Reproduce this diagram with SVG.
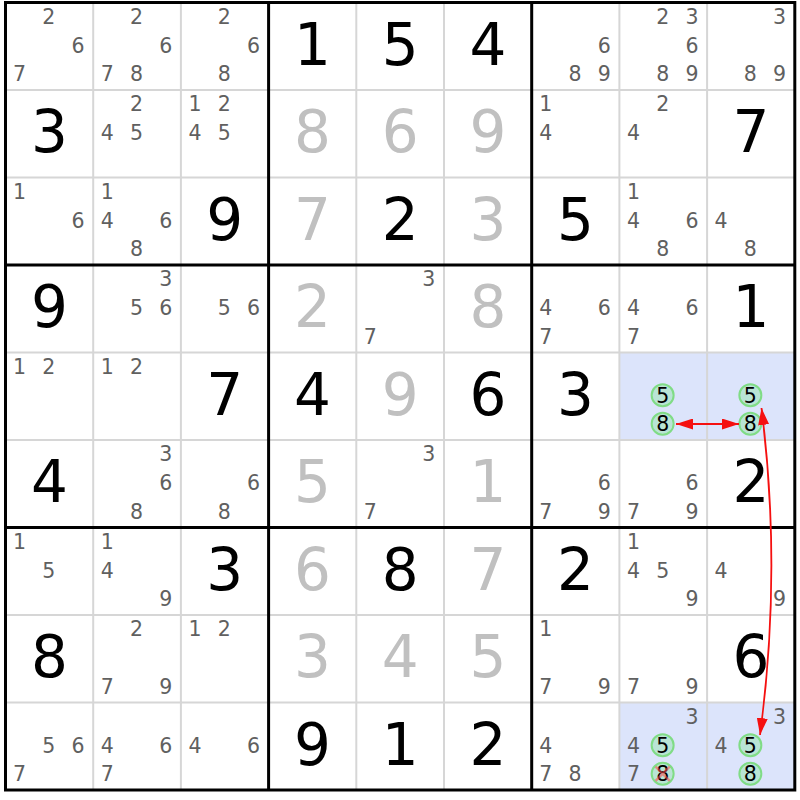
<svg xmlns="http://www.w3.org/2000/svg" width="800" height="800" viewBox="0 0 800 800">
<style>
text{font-family:"DejaVu Sans","Liberation Sans",sans-serif;text-anchor:middle}
.c{font-size:20.5px;fill:#606060}
.g{font-size:58px;fill:#000}
.s{font-size:58px;fill:#c0c0c0}
.k{font-size:20.5px;fill:#000}
.hl{fill:#dce4fb}
.cir{fill:#b9e4d5;stroke:#80dc86;stroke-width:2}
.thin{stroke:#d6d6d6;stroke-width:2}
.thick{stroke:#000;stroke-width:3;fill:none}
.arr{stroke:#f51010;stroke-width:1.8;fill:none;marker-start:url(#ah);marker-end:url(#ah)}
.x{stroke:#ff4a4a;stroke-width:2.5;opacity:0.55}
</style>
<defs>
<marker id="ah" viewBox="0 0 17 11" refX="17" refY="5.5" markerWidth="17" markerHeight="11" markerUnits="userSpaceOnUse" orient="auto-start-reverse">
<path d="M0,0 L17,5.5 L0,11 z" fill="#f51010"/>
</marker>
</defs>
<rect width="800" height="800" fill="#fff"/>
<g id="highlights">
<rect class="hl" x="619.4" y="352.5" width="175.4" height="87.5"/>
<rect class="hl" x="619.4" y="702.5" width="175.4" height="87.5"/>
</g>
<g id="grid">
<path class="thin" d="M93.2,2.5V790M180.9,2.5V790M356.3,2.5V790M444,2.5V790M619.4,2.5V790M707.1,2.5V790M5.5,90H794.8M5.5,177.5H794.8M5.5,352.5H794.8M5.5,440H794.8M5.5,615H794.8M5.5,702.5H794.8"/>
<path class="thick" d="M268.6,2.5V790M531.7,2.5V790M5.5,265H794.8M5.5,527.5H794.8"/>
<rect class="thick" x="5.5" y="2.5" width="789.3" height="787.5"/>
</g>
<g id="r1c1"><text class="c" x="48.75" y="23.5">2</text><text class="c" x="78" y="52.5">6</text><text class="c" x="19.5" y="81">7</text></g>
<g id="r1c2"><text class="c" x="136.45" y="23.5">2</text><text class="c" x="165.7" y="52.5">6</text><text class="c" x="107.2" y="81">7</text><text class="c" x="136.45" y="81">8</text></g>
<g id="r1c3"><text class="c" x="224.15" y="23.5">2</text><text class="c" x="253.4" y="52.5">6</text><text class="c" x="224.15" y="81">8</text></g>
<g id="r1c4"><text class="g" x="312.45" y="64.5">1</text></g>
<g id="r1c5"><text class="g" x="400.15" y="64.5">5</text></g>
<g id="r1c6"><text class="g" x="487.85" y="64.5">4</text></g>
<g id="r1c7"><text class="c" x="604.2" y="52.5">6</text><text class="c" x="574.95" y="81">8</text><text class="c" x="604.2" y="81">9</text></g>
<g id="r1c8"><text class="c" x="662.65" y="23.5">2</text><text class="c" x="691.9" y="23.5">3</text><text class="c" x="691.9" y="52.5">6</text><text class="c" x="662.65" y="81">8</text><text class="c" x="691.9" y="81">9</text></g>
<g id="r1c9"><text class="c" x="779.6" y="23.5">3</text><text class="c" x="750.35" y="81">8</text><text class="c" x="779.6" y="81">9</text></g>
<g id="r2c1"><text class="g" x="49.35" y="152">3</text></g>
<g id="r2c2"><text class="c" x="136.45" y="111">2</text><text class="c" x="107.2" y="140">4</text><text class="c" x="136.45" y="140">5</text></g>
<g id="r2c3"><text class="c" x="194.9" y="111">1</text><text class="c" x="224.15" y="111">2</text><text class="c" x="194.9" y="140">4</text><text class="c" x="224.15" y="140">5</text></g>
<g id="r2c4"><text class="s" x="312.45" y="152">8</text></g>
<g id="r2c5"><text class="s" x="400.15" y="152">6</text></g>
<g id="r2c6"><text class="s" x="487.85" y="152">9</text></g>
<g id="r2c7"><text class="c" x="545.7" y="111">1</text><text class="c" x="545.7" y="140">4</text></g>
<g id="r2c8"><text class="c" x="662.65" y="111">2</text><text class="c" x="633.4" y="140">4</text></g>
<g id="r2c9"><text class="g" x="750.95" y="152">7</text></g>
<g id="r3c1"><text class="c" x="19.5" y="198.5">1</text><text class="c" x="78" y="227.5">6</text></g>
<g id="r3c2"><text class="c" x="107.2" y="198.5">1</text><text class="c" x="107.2" y="227.5">4</text><text class="c" x="165.7" y="227.5">6</text><text class="c" x="136.45" y="256">8</text></g>
<g id="r3c3"><text class="g" x="224.75" y="239.5">9</text></g>
<g id="r3c4"><text class="s" x="312.45" y="239.5">7</text></g>
<g id="r3c5"><text class="g" x="400.15" y="239.5">2</text></g>
<g id="r3c6"><text class="s" x="487.85" y="239.5">3</text></g>
<g id="r3c7"><text class="g" x="575.55" y="239.5">5</text></g>
<g id="r3c8"><text class="c" x="633.4" y="198.5">1</text><text class="c" x="633.4" y="227.5">4</text><text class="c" x="691.9" y="227.5">6</text><text class="c" x="662.65" y="256">8</text></g>
<g id="r3c9"><text class="c" x="721.1" y="227.5">4</text><text class="c" x="750.35" y="256">8</text></g>
<g id="r4c1"><text class="g" x="49.35" y="327">9</text></g>
<g id="r4c2"><text class="c" x="165.7" y="286">3</text><text class="c" x="136.45" y="315">5</text><text class="c" x="165.7" y="315">6</text></g>
<g id="r4c3"><text class="c" x="224.15" y="315">5</text><text class="c" x="253.4" y="315">6</text></g>
<g id="r4c4"><text class="s" x="312.45" y="327">2</text></g>
<g id="r4c5"><text class="c" x="428.8" y="286">3</text><text class="c" x="370.3" y="343.5">7</text></g>
<g id="r4c6"><text class="s" x="487.85" y="327">8</text></g>
<g id="r4c7"><text class="c" x="545.7" y="315">4</text><text class="c" x="604.2" y="315">6</text><text class="c" x="545.7" y="343.5">7</text></g>
<g id="r4c8"><text class="c" x="633.4" y="315">4</text><text class="c" x="691.9" y="315">6</text><text class="c" x="633.4" y="343.5">7</text></g>
<g id="r4c9"><text class="g" x="750.95" y="327">1</text></g>
<g id="r5c1"><text class="c" x="19.5" y="373.5">1</text><text class="c" x="48.75" y="373.5">2</text></g>
<g id="r5c2"><text class="c" x="107.2" y="373.5">1</text><text class="c" x="136.45" y="373.5">2</text></g>
<g id="r5c3"><text class="g" x="224.75" y="414.5">7</text></g>
<g id="r5c4"><text class="g" x="312.45" y="414.5">4</text></g>
<g id="r5c5"><text class="s" x="400.15" y="414.5">9</text></g>
<g id="r5c6"><text class="g" x="487.85" y="414.5">6</text></g>
<g id="r5c7"><text class="g" x="575.55" y="414.5">3</text></g>
<g id="r5c8"><circle class="cir" cx="662.65" cy="395.2" r="11"/><circle class="cir" cx="662.65" cy="423.7" r="11"/><text class="k" x="662.65" y="402.5">5</text><text class="k" x="662.65" y="431">8</text></g>
<g id="r5c9"><circle class="cir" cx="750.35" cy="395.2" r="11"/><circle class="cir" cx="750.35" cy="423.7" r="11"/><text class="k" x="750.35" y="402.5">5</text><text class="k" x="750.35" y="431">8</text></g>
<g id="r6c1"><text class="g" x="49.35" y="502">4</text></g>
<g id="r6c2"><text class="c" x="165.7" y="461">3</text><text class="c" x="165.7" y="490">6</text><text class="c" x="136.45" y="518.5">8</text></g>
<g id="r6c3"><text class="c" x="253.4" y="490">6</text><text class="c" x="224.15" y="518.5">8</text></g>
<g id="r6c4"><text class="s" x="312.45" y="502">5</text></g>
<g id="r6c5"><text class="c" x="428.8" y="461">3</text><text class="c" x="370.3" y="518.5">7</text></g>
<g id="r6c6"><text class="s" x="487.85" y="502">1</text></g>
<g id="r6c7"><text class="c" x="604.2" y="490">6</text><text class="c" x="545.7" y="518.5">7</text><text class="c" x="604.2" y="518.5">9</text></g>
<g id="r6c8"><text class="c" x="691.9" y="490">6</text><text class="c" x="633.4" y="518.5">7</text><text class="c" x="691.9" y="518.5">9</text></g>
<g id="r6c9"><text class="g" x="750.95" y="502">2</text></g>
<g id="r7c1"><text class="c" x="19.5" y="548.5">1</text><text class="c" x="48.75" y="577.5">5</text></g>
<g id="r7c2"><text class="c" x="107.2" y="548.5">1</text><text class="c" x="107.2" y="577.5">4</text><text class="c" x="165.7" y="606">9</text></g>
<g id="r7c3"><text class="g" x="224.75" y="589.5">3</text></g>
<g id="r7c4"><text class="s" x="312.45" y="589.5">6</text></g>
<g id="r7c5"><text class="g" x="400.15" y="589.5">8</text></g>
<g id="r7c6"><text class="s" x="487.85" y="589.5">7</text></g>
<g id="r7c7"><text class="g" x="575.55" y="589.5">2</text></g>
<g id="r7c8"><text class="c" x="633.4" y="548.5">1</text><text class="c" x="633.4" y="577.5">4</text><text class="c" x="662.65" y="577.5">5</text><text class="c" x="691.9" y="606">9</text></g>
<g id="r7c9"><text class="c" x="721.1" y="577.5">4</text><text class="c" x="779.6" y="606">9</text></g>
<g id="r8c1"><text class="g" x="49.35" y="677">8</text></g>
<g id="r8c2"><text class="c" x="136.45" y="636">2</text><text class="c" x="107.2" y="693.5">7</text><text class="c" x="165.7" y="693.5">9</text></g>
<g id="r8c3"><text class="c" x="194.9" y="636">1</text><text class="c" x="224.15" y="636">2</text></g>
<g id="r8c4"><text class="s" x="312.45" y="677">3</text></g>
<g id="r8c5"><text class="s" x="400.15" y="677">4</text></g>
<g id="r8c6"><text class="s" x="487.85" y="677">5</text></g>
<g id="r8c7"><text class="c" x="545.7" y="636">1</text><text class="c" x="545.7" y="693.5">7</text><text class="c" x="604.2" y="693.5">9</text></g>
<g id="r8c8"><text class="c" x="633.4" y="693.5">7</text><text class="c" x="691.9" y="693.5">9</text></g>
<g id="r8c9"><text class="g" x="750.95" y="677">6</text></g>
<g id="r9c1"><text class="c" x="48.75" y="752.5">5</text><text class="c" x="78" y="752.5">6</text><text class="c" x="19.5" y="781">7</text></g>
<g id="r9c2"><text class="c" x="107.2" y="752.5">4</text><text class="c" x="165.7" y="752.5">6</text><text class="c" x="107.2" y="781">7</text></g>
<g id="r9c3"><text class="c" x="194.9" y="752.5">4</text><text class="c" x="253.4" y="752.5">6</text></g>
<g id="r9c4"><text class="g" x="312.45" y="764.5">9</text></g>
<g id="r9c5"><text class="g" x="400.15" y="764.5">1</text></g>
<g id="r9c6"><text class="g" x="487.85" y="764.5">2</text></g>
<g id="r9c7"><text class="c" x="545.7" y="752.5">4</text><text class="c" x="545.7" y="781">7</text><text class="c" x="574.95" y="781">8</text></g>
<g id="r9c8"><text class="c" x="691.9" y="723.5">3</text><text class="c" x="633.4" y="752.5">4</text><text class="c" x="633.4" y="781">7</text><circle class="cir" cx="662.65" cy="745.2" r="11"/><circle class="cir" cx="662.65" cy="773.7" r="11"/><text class="k" x="662.65" y="752.5">5</text><text class="k" x="662.65" y="781">8</text><path class="x" d="M655.6,766.6L669.7,780.8M669.7,766.6L655.6,780.8"/></g>
<g id="r9c9"><text class="c" x="779.6" y="723.5">3</text><text class="c" x="721.1" y="752.5">4</text><circle class="cir" cx="750.35" cy="745.2" r="11"/><circle class="cir" cx="750.35" cy="773.7" r="11"/><text class="k" x="750.35" y="752.5">5</text><text class="k" x="750.35" y="781">8</text></g>
<g id="connectors">
<path class="arr" d="M676,424H739"/>
<path class="arr" d="M761.5,408Q782,571 760,735"/>
</g>
</svg>
